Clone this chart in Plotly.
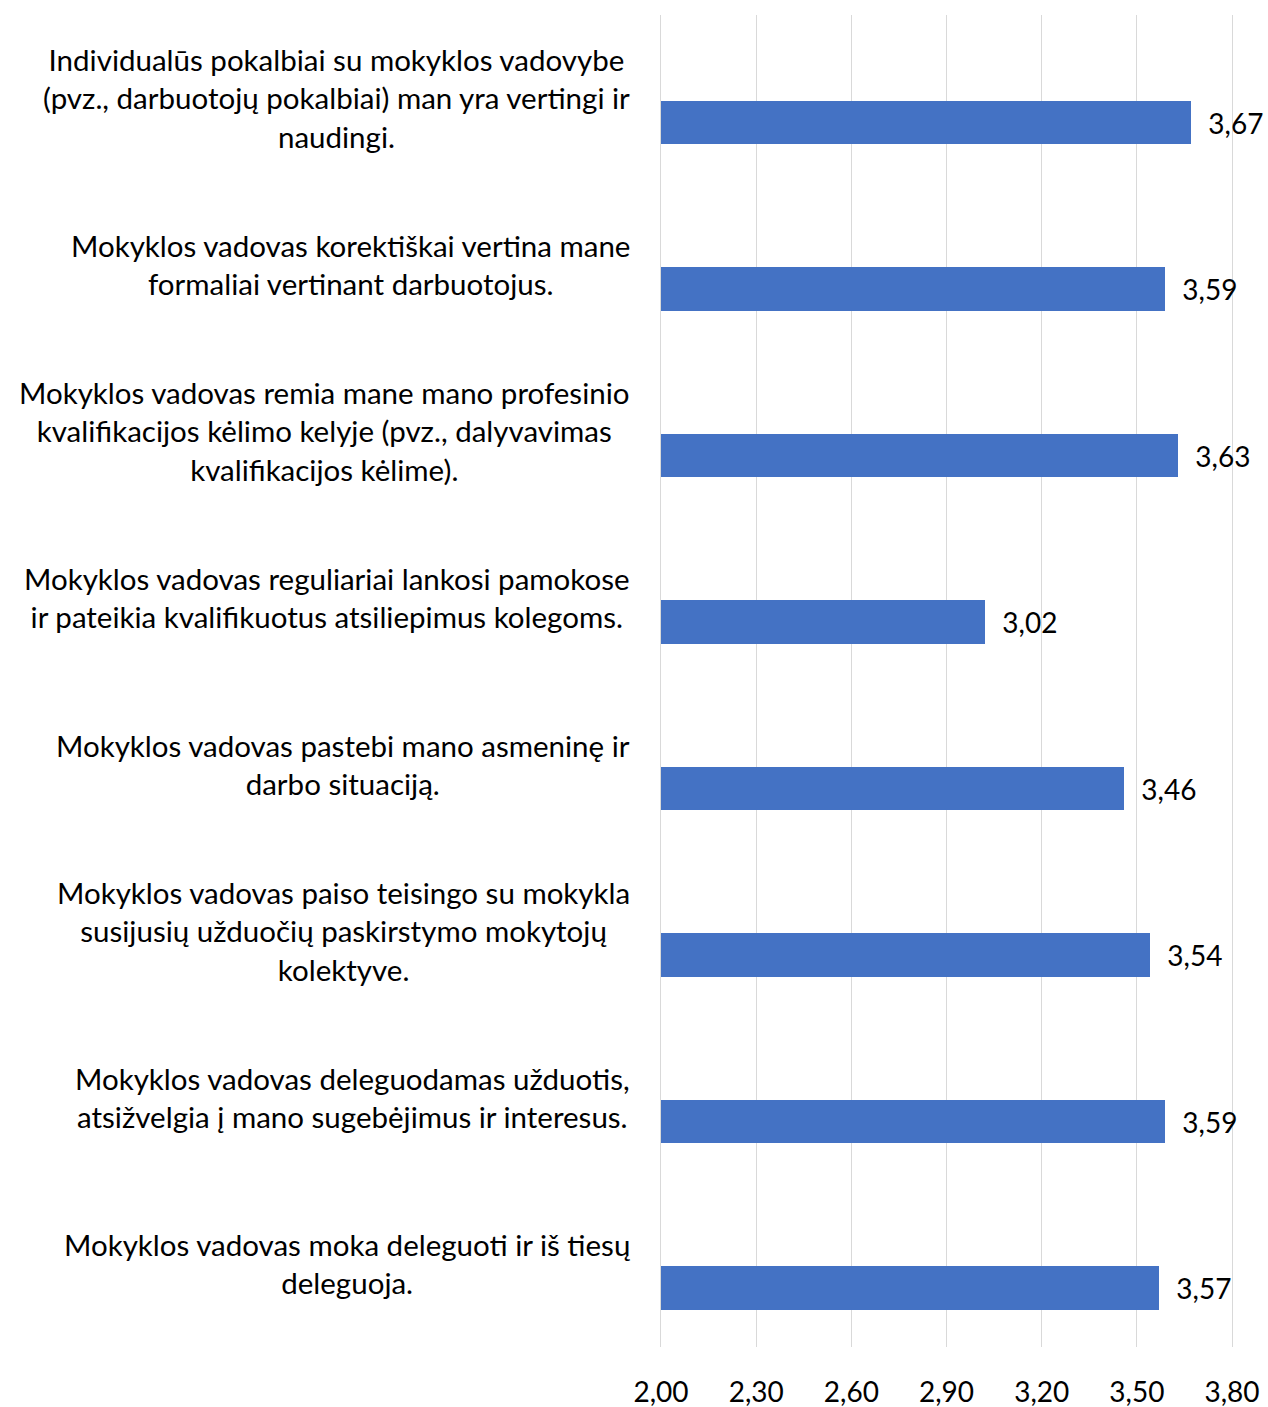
import plotly.graph_objects as go

categories = [
    "Individualūs pokalbiai su mokyklos vadovybe<br>(pvz., darbuotojų pokalbiai) man yra vertingi ir<br>naudingi.",
    "Mokyklos vadovas korektiškai vertina mane<br>formaliai vertinant darbuotojus.",
    "Mokyklos vadovas remia mane mano profesinio<br>kvalifikacijos kėlimo kelyje (pvz., dalyvavimas<br>kvalifikacijos kėlime).",
    "Mokyklos vadovas reguliariai lankosi pamokose<br>ir pateikia kvalifikuotus atsiliepimus kolegoms.",
    "Mokyklos vadovas pastebi mano asmeninę ir<br>darbo situaciją.",
    "Mokyklos vadovas paiso teisingo su mokykla<br>susijusių užduočių paskirstymo mokytojų<br>kolektyve.",
    "Mokyklos vadovas deleguodamas užduotis,<br>atsižvelgia į mano sugebėjimus ir interesus.",
    "Mokyklos vadovas moka deleguoti ir iš tiesų<br>deleguoja.",
]
values = [3.67, 3.59, 3.63, 3.02, 3.46, 3.54, 3.59, 3.57]
tick_values = [2.00, 2.30, 2.60, 2.90, 3.20, 3.50, 3.80]

FONT = "Lato, Carlito, Calibri, sans-serif"
BLUE = "#4472C4"
GRID = "#D9D9D9"

fig = go.Figure()
fig.add_trace(go.Bar(
    y=categories,
    x=values,
    orientation="h",
    marker=dict(color=BLUE, line=dict(width=0)),
    width=0.26,
    offset=0.015,
    text=["\u00a0\u00a0" + f"{v:.2f}".replace(".", ",") for v in values],
    textposition="outside",
    textfont=dict(family=FONT, size=28, color="#000000"),
    cliponaxis=False,
    hoverinfo="skip",
))

for c in categories:
    fig.add_annotation(
        x=-0.0508, xref="paper", y=c, yref="y",
        text=c, showarrow=False,
        xanchor="right", yanchor="middle", align="center",
        font=dict(family=FONT, size=29.5, color="#000000"),
    )

fig.update_layout(
    width=1268, height=1407,
    margin=dict(l=661, r=36, t=15, b=60, autoexpand=False),
    paper_bgcolor="white", plot_bgcolor="white",
    separators=", ",
    showlegend=False,
    bargap=0,
    font=dict(family=FONT, size=28, color="#000000"),
)
fig.update_xaxes(
    range=[2.0, 3.8],
    tickvals=tick_values,
    tickformat=".2f",
    automargin=False,
    showgrid=True, gridcolor=GRID, gridwidth=1,
    zeroline=False, showline=False,
    ticks="outside", ticklen=20, tickcolor="rgba(0,0,0,0)",
    tickfont=dict(family=FONT, size=28, color="#000000"),
)
fig.update_yaxes(
    autorange="reversed",
    automargin=False,
    showticklabels=False,
    showgrid=False, zeroline=False,
    showline=True, linecolor=GRID, linewidth=1, mirror=True,
    layer="below traces",
)

fig.write_html(
    "out.html",
    config={"displayModeBar": False},
    post_script="document.body.style.margin='0';document.body.style.padding='0';",
)
